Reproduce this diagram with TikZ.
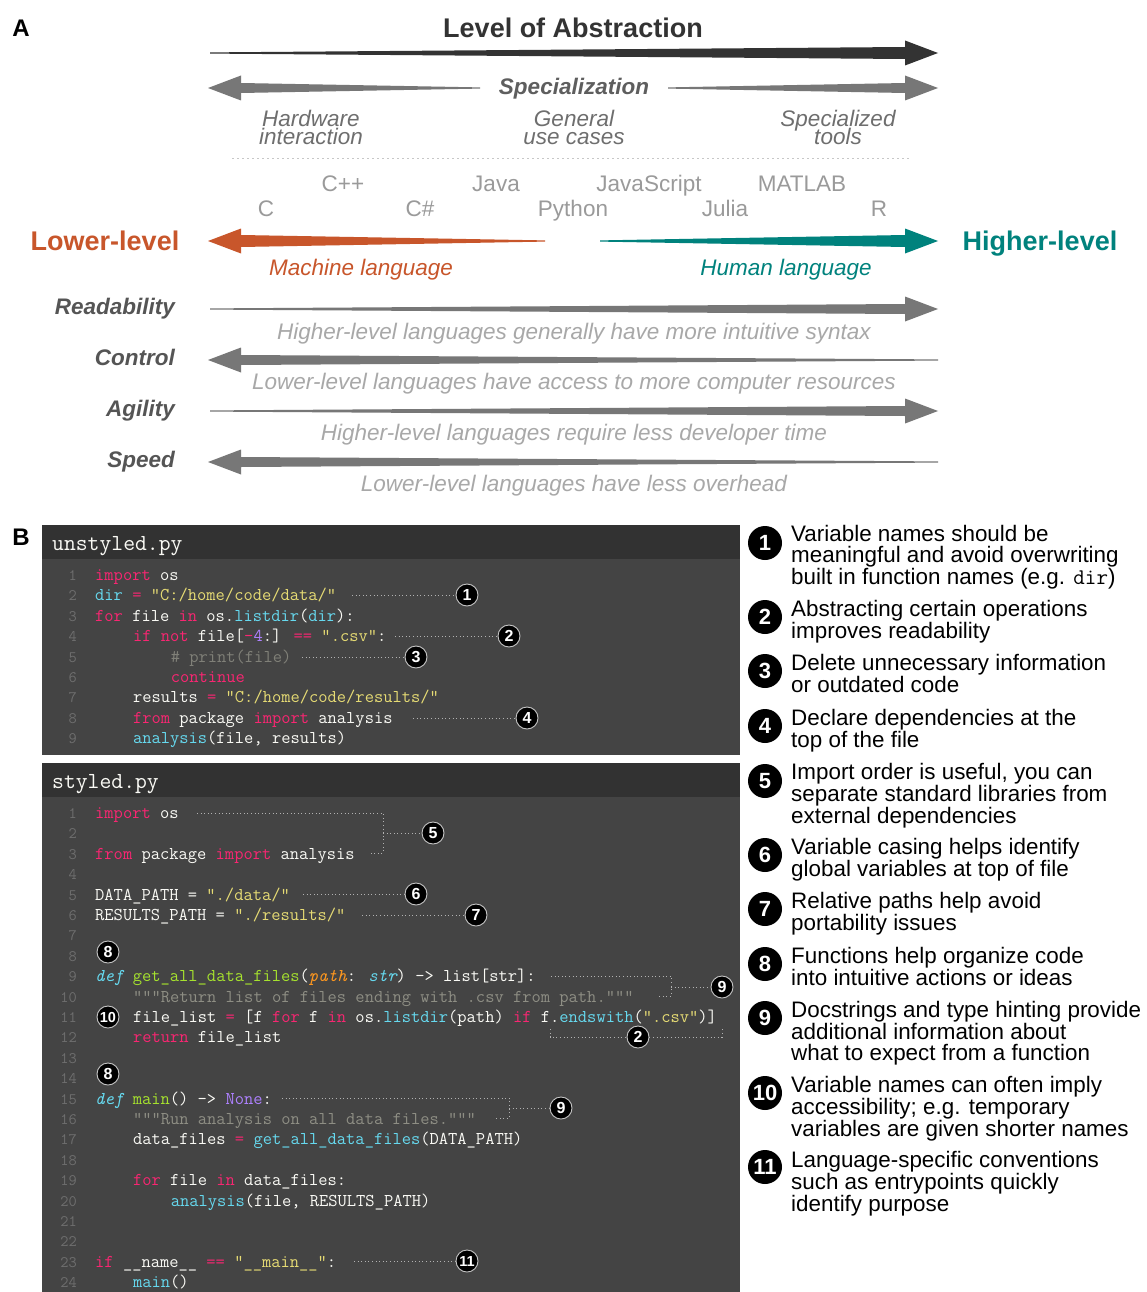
\documentclass[tikz,border=0pt]{standalone}
\usepackage{fontspec}
\setmainfont{Liberation Sans}
\usepackage{xcolor}
\definecolor{cdark}{HTML}{333333}
\definecolor{cgray}{HTML}{777777}
\definecolor{corange}{HTML}{C8562B}
\definecolor{cteal}{HTML}{00827D}
\definecolor{cspec}{HTML}{5E5E5E}
\definecolor{cuse}{HTML}{6E6E6E}
\definecolor{clang}{HTML}{9A9A9A}
\definecolor{csent}{HTML}{A8A8A8}
\definecolor{cprop}{HTML}{555555}
\definecolor{chead}{HTML}{323232}
\definecolor{cbody}{HTML}{444444}
\definecolor{cwhite}{HTML}{FAFAF5}
\definecolor{clnum}{HTML}{6E6E6E}
\definecolor{ckw}{HTML}{F92672}
\definecolor{ccy}{HTML}{66D9EF}
\definecolor{cst}{HTML}{E6DB74}
\definecolor{cnu}{HTML}{AE81FF}
\definecolor{cgr}{HTML}{A6E22E}
\definecolor{cor}{HTML}{FD971F}
\definecolor{ccm}{HTML}{808078}
\definecolor{cdoc}{HTML}{8E8E84}
\newcommand\setfs[2]{\fontsize{#1}{#2}\selectfont}
\newcommand\cKw[1]{\textcolor{ckw}{#1}}
\newcommand\cCy[1]{\textcolor{ccy}{#1}}
\newcommand\cSt[1]{\textcolor{cst}{#1}}
\newcommand\cNu[1]{\textcolor{cnu}{#1}}
\newcommand\cGr[1]{\textcolor{cgr}{#1}}
\newcommand\cPu[1]{\textcolor{cnu}{#1}}
\newcommand\cItCy[1]{\textcolor{ccy}{\itshape #1}}
\newcommand\cItOr[1]{\textcolor{cor}{\itshape #1}}
\newcommand\cCm[1]{\textcolor{ccm}{#1}}
\newcommand\cDoc[1]{\textcolor{cdoc}{#1}}
% tapered arrows: tail x, tip x, y, colour, half shaft width
\newcommand\taperR[5]{\fill[#4] (#1,{#3-0.6}) -- ({#2-33},{#3-#5}) -- ({#2-33},{#3-12.5}) -- (#2,#3) -- ({#2-33},{#3+12.5}) -- ({#2-33},{#3+#5}) -- (#1,{#3+0.6}) -- cycle;}
\newcommand\taperL[5]{\fill[#4] (#2,{#3-0.6}) -- ({#1+33},{#3-#5}) -- ({#1+33},{#3-12.5}) -- (#1,#3) -- ({#1+33},{#3+12.5}) -- ({#1+33},{#3+#5}) -- (#2,{#3+0.6}) -- cycle;}
% code line: prefix, y of line 1, line number, indent level, text
\newcommand\codeline[5]{%
  \node[lnum] (#1n#3) at (77,{#2+20.4*(#3-1)+5.5}) {#3};
  \node[ctext] (#1l#3) at ({95+37.8*#4},{#2+20.4*(#3-1)+5.5}) {#5};}
\begin{document}
\begin{tikzpicture}[x=1pt,y=-1pt,
  lbl/.style={inner sep=0, anchor=mid},
  ctext/.style={inner sep=0, anchor=base west, font=\ttfamily\setfs{18}{20}, text=cwhite},
  lnum/.style={inner sep=0, anchor=base east, font=\ttfamily\setfs{16}{18}, text=clnum},
  ctitle/.style={inner sep=0, anchor=mid west, font=\ttfamily\setfs{23}{25}, text=cwhite},
  cbadge/.style={circle, fill=black, draw=black!22, line width=0.9pt, inner sep=0, minimum size=22pt, text=white, font=\bfseries\setfs{16}{16}},
  lbadge/.style={circle, fill=black, inner sep=0, minimum size=34pt, text=white, font=\bfseries\setfs{22}{22}},
  dotline/.style={draw=black!30, line width=0.9pt, dash pattern=on 0.9pt off 2.7pt},
  listtxt/.style={inner sep=0, anchor=base west, font=\setfs{22.4}{20.8}, text=black},
  usecase/.style={lbl, font=\itshape\setfs{22.5}{20}, text=cuse},
  langname/.style={lbl, font=\setfs{22.5}{20}, text=clang},
  sentence/.style={lbl, font=\itshape\setfs{22.5}{20}, text=csent},
  prop/.style={inner sep=0, anchor=mid east, font=\bfseries\itshape\setfs{22.5}{20}, text=cprop}
]
\useasboundingbox (0,0) rectangle (1146,1292);
\fill[white] (0,0) rectangle (1146,1292);

% ---------------- Part A ----------------
\node[lbl, font=\bfseries\setfs{24}{26}] (labA) at (21,34) {A};
\node[lbl, font=\bfseries\setfs{27}{30}, text=cdark] (title) at (573,35) {Level of Abstraction};
\taperR{210}{938}{53}{cdark}{6}

\taperL{208}{480}{88}{cgray}{5}
\taperR{668}{938}{88}{cgray}{5}
\node[lbl, font=\bfseries\itshape\setfs{22.5}{24}, text=cspec] (spec) at (574,92) {Specialization};

\node[usecase] (hw1) at (311,124) {Hardware};
\node[usecase] (hw2) at (311,142) {interaction};
\node[usecase] (gu1) at (574,124) {General};
\node[usecase] (gu2) at (574,142) {use cases};
\node[usecase] (st1) at (838,124) {Specialized};
\node[usecase] (st2) at (838,142) {tools};

\draw[draw=black!22, line width=0.8pt, dash pattern=on 2pt off 3pt] (232,158) -- (910,158);

\node[langname] (cpp) at (343,189) {C++};
\node[langname] (java) at (496,189) {Java};
\node[langname] (js) at (649,189) {JavaScript};
\node[langname] (matlab) at (802,189) {MATLAB};
\node[langname] (c) at (266,214) {C};
\node[langname] (cs) at (420,214) {C\#};
\node[langname] (py) at (573,214) {Python};
\node[langname] (jl) at (725,214) {Julia};
\node[langname] (r) at (879,214) {R};

\node[lbl, font=\bfseries\setfs{27}{30}, text=corange] (low) at (105,248) {Lower-level};
\node[lbl, font=\bfseries\setfs{27}{30}, text=cteal] (high) at (1040,248) {Higher-level};
\taperL{208}{545}{241}{corange}{6}
\taperR{600}{938}{241}{cteal}{6}
\node[lbl, font=\itshape\setfs{22.5}{24}, text=corange] (mach) at (361,273) {Machine language};
\node[lbl, font=\itshape\setfs{22.5}{24}, text=cteal] (hum) at (786,273) {Human language};

\node[prop] (read) at (175,312) {Readability};
\taperR{210}{938}{309}{cgray}{5}
\node[sentence] (s1) at (574,337) {Higher-level languages generally have more intuitive syntax};
\node[prop] (ctrl) at (175,363) {Control};
\taperL{208}{938}{360}{cgray}{5}
\node[sentence] (s2) at (574,387) {Lower-level languages have access to more computer resources};
\node[prop] (agil) at (175,414) {Agility};
\taperR{210}{938}{411}{cgray}{5}
\node[sentence] (s3) at (574,438) {Higher-level languages require less developer time};
\node[prop] (speed) at (175,465) {Speed};
\taperL{208}{938}{462}{cgray}{5}
\node[sentence] (s4) at (574,489) {Lower-level languages have less overhead};

% ---------------- Part B ----------------
\node[lbl, font=\bfseries\setfs{24}{26}] (labB) at (21,543) {B};

% unstyled.py
\fill[chead] (42,525) rectangle (740,559);
\fill[cbody] (42,559) rectangle (740,755);
\node[ctitle] (utitle) at (52,548) {unstyled.py};
\codeline{u}{575}{1}{0}{\cKw{import} os}
\codeline{u}{575}{2}{0}{\cCy{dir} \cKw{=} \cSt{"C:/home/code/data/"}}
\codeline{u}{575}{3}{0}{\cKw{for} file \cKw{in} os.\cCy{listdir}(\cCy{dir}):}
\codeline{u}{575}{4}{1}{\cKw{if} \cKw{not} file[\cKw{-}\cNu{4}:] \cKw{==} \cSt{".csv"}:}
\codeline{u}{575}{5}{2}{\cCm{\# print(file)}}
\codeline{u}{575}{6}{2}{\cKw{continue}}
\codeline{u}{575}{7}{1}{results \cKw{=} \cSt{"C:/home/code/results/"}}
\codeline{u}{575}{8}{1}{\cKw{from} package \cKw{import} analysis}
\codeline{u}{575}{9}{1}{\cCy{analysis}(file, results)}

\node[cbadge] (ub1) at (467,595) {1};
\node[cbadge] (ub2) at (509,636) {2};
\node[cbadge] (ub3) at (416,657) {3};
\node[cbadge] (ub4) at (527,718) {4};
\draw[dotline] (352,595) -- (ub1);
\draw[dotline] (395,636) -- (ub2);
\draw[dotline] (302,657) -- (ub3);
\draw[dotline] (413,718) -- (ub4);

% styled.py
\fill[chead] (42,763) rectangle (740,797);
\fill[cbody] (42,797) rectangle (740,1292);
\node[ctitle] (stitle) at (52,786) {styled.py};
\codeline{s}{813}{1}{0}{\cKw{import} os}
\codeline{s}{813}{2}{0}{}
\codeline{s}{813}{3}{0}{\cKw{from} package \cKw{import} analysis}
\codeline{s}{813}{4}{0}{}
\codeline{s}{813}{5}{0}{DATA\_PATH = \cSt{"./data/"}}
\codeline{s}{813}{6}{0}{RESULTS\_PATH = \cSt{"./results/"}}
\codeline{s}{813}{7}{0}{}
\codeline{s}{813}{8}{0}{}
\codeline{s}{813}{9}{0}{\cItCy{def} \cGr{get\_all\_data\_files}(\cItOr{path}: \cItCy{str}) -> list[str]:}
\codeline{s}{813}{10}{1}{\cDoc{"""Return list of files ending with .csv from path."""}}
\codeline{s}{813}{11}{1}{file\_list \cKw{=} [f \cKw{for} f \cKw{in} os.\cCy{listdir}(path) \cKw{if} f.\cCy{endswith}(\cSt{".csv"})]}
\codeline{s}{813}{12}{1}{\cKw{return} file\_list}
\codeline{s}{813}{13}{0}{}
\codeline{s}{813}{14}{0}{}
\codeline{s}{813}{15}{0}{\cItCy{def} \cGr{main}() -> \cPu{None}:}
\codeline{s}{813}{16}{1}{\cDoc{"""Run analysis on all data files."""}}
\codeline{s}{813}{17}{1}{data\_files \cKw{=} \cCy{get\_all\_data\_files}(DATA\_PATH)}
\codeline{s}{813}{18}{0}{}
\codeline{s}{813}{19}{1}{\cKw{for} file \cKw{in} data\_files:}
\codeline{s}{813}{20}{2}{\cCy{analysis}(file, RESULTS\_PATH)}
\codeline{s}{813}{21}{0}{}
\codeline{s}{813}{22}{0}{}
\codeline{s}{813}{23}{0}{\cKw{if} \_\_name\_\_ \cKw{==} \cSt{"\_\_main\_\_"}:}
\codeline{s}{813}{24}{1}{\cCy{main}()}

\node[cbadge] (sb5) at (433,833) {5};
\node[cbadge] (sb6) at (416,894) {6};
\node[cbadge] (sb7) at (476,915) {7};
\node[cbadge] (sb8a) at (108,952) {8};
\node[cbadge] (sb9a) at (722,987) {9};
\node[cbadge, font=\bfseries\setfs{14.5}{15}] (sb10) at (108,1017) {10};
\node[cbadge] (sb2) at (638,1037) {2};
\node[cbadge] (sb8b) at (108,1074) {8};
\node[cbadge] (sb9b) at (561,1108) {9};
\node[cbadge, font=\bfseries\setfs{14.5}{15}] (sb11) at (467,1261) {11};

\draw[dotline] (197,813) -- (383,813) -- (383,853) -- (370,853);
\draw[dotline] (383,833) -- (sb5);
\draw[dotline] (303,894) -- (sb6);
\draw[dotline] (362,915) -- (sb7);
\draw[dotline] (551,976) -- (671,976) -- (671,996) -- (659,996);
\draw[dotline] (671,987) -- (sb9a);
\draw[dotline] (550,1029) -- (550,1037) -- (sb2);
\draw[dotline] (sb2) -- (722,1037) -- (722,1029);
\draw[dotline] (282,1098) -- (509,1098) -- (509,1118) -- (495,1118);
\draw[dotline] (509,1108) -- (sb9b);
\draw[dotline] (354,1261) -- (sb11);

% explanation list
\node[lbadge] (lb1) at (765,543) {1};
\node[listtxt] (lt1) at (791,541.5) {\parbox[t]{360pt}{\raggedright Variable names should be\\meaningful and avoid overwriting\\built in function names (e.g. \texttt{dir})}};
\node[lbadge] (lb2) at (765,617) {2};
\node[listtxt] (lt2) at (791,616.5) {\parbox[t]{360pt}{\raggedright Abstracting certain operations\\improves readability}};
\node[lbadge] (lb3) at (765,671) {3};
\node[listtxt] (lt3) at (791,670.5) {\parbox[t]{360pt}{\raggedright Delete unnecessary information\\or outdated code}};
\node[lbadge] (lb4) at (765,726) {4};
\node[listtxt] (lt4) at (791,725.5) {\parbox[t]{360pt}{\raggedright Declare dependencies at the\\top of the file}};
\node[lbadge] (lb5) at (765,781) {5};
\node[listtxt] (lt5) at (791,779.5) {\parbox[t]{360pt}{\raggedright Import order is useful, you can\\separate standard libraries from\\external dependencies}};
\node[lbadge] (lb6) at (765,855) {6};
\node[listtxt] (lt6) at (791,854.5) {\parbox[t]{360pt}{\raggedright Variable casing helps identify\\global variables at top of file}};
\node[lbadge] (lb7) at (765,909) {7};
\node[listtxt] (lt7) at (791,908.5) {\parbox[t]{360pt}{\raggedright Relative paths help avoid\\portability issues}};
\node[lbadge] (lb8) at (765,964) {8};
\node[listtxt] (lt8) at (791,963.5) {\parbox[t]{360pt}{\raggedright Functions help organize code\\into intuitive actions or ideas}};
\node[lbadge] (lb9) at (765,1018) {9};
\node[listtxt] (lt9) at (791,1017.5) {\parbox[t]{360pt}{\raggedright Docstrings and type hinting provide\\additional information about\\what to expect from a function}};
\node[lbadge] (lb10) at (765,1093) {10};
\node[listtxt] (lt10) at (791,1092.5) {\parbox[t]{360pt}{\raggedright Variable names can often imply\\accessibility; e.g. temporary\\variables are given shorter names}};
\node[lbadge] (lb11) at (765,1167) {11};
\node[listtxt] (lt11) at (791,1167.5) {\parbox[t]{360pt}{\raggedright Language-specific conventions\\such as entrypoints quickly\\identify purpose}};
\end{tikzpicture}
\end{document}
